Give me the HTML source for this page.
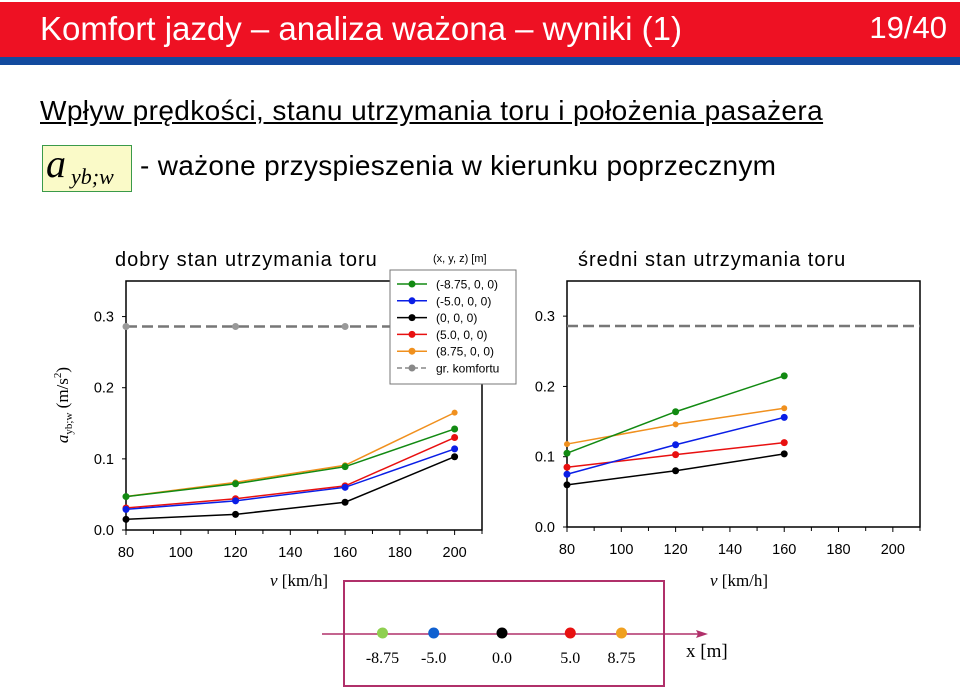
<!DOCTYPE html>
<html><head><meta charset="utf-8">
<style>
body{margin:0;width:960px;height:691px;background:#fff;position:relative;overflow:hidden;font-family:"Liberation Sans",sans-serif}
.abs{position:absolute;white-space:nowrap}
</style></head>
<body>
<div class="abs" style="left:0;top:2px;width:960px;height:55px;background:#ee1123"></div>
<div class="abs" style="left:0;top:57px;width:960px;height:8px;background:#124a9e"></div>
<div class="abs" style="left:40px;top:10px;font-size:33px;color:#fff">Komfort jazdy – analiza ważona – wyniki (1)</div>
<div class="abs" style="right:13px;top:10px;font-size:31px;color:#fff">19/40</div>
<div class="abs" style="left:40px;top:95px;font-size:28px;text-decoration:underline;letter-spacing:0.4px">Wpływ prędkości, stanu utrzymania toru i położenia pasażera</div>
<div class="abs" style="left:42px;top:145px;width:88px;height:45px;background:#fafac8;border:1px solid #3a9a4a;font-family:'Liberation Serif',serif;font-style:italic"><span style="position:absolute;left:3px;top:-6px;font-size:40px">a</span><span style="position:absolute;left:28px;top:18px;font-size:22px">yb;w</span></div>
<div class="abs" style="left:140px;top:150px;font-size:28px;letter-spacing:0.3px">- ważone przyspieszenia w kierunku poprzecznym</div>

<svg id="chart" class="abs" style="left:0;top:0" width="960" height="691"></svg>

<div class="abs" style="left:343px;top:580px;width:318px;height:103px;border:2px solid #b0306a"></div>

<script>
const xTicks=[80,100,120,140,160,180,200];
const yTicks=[0.0,0.1,0.2,0.3];
const yTickLabels=["0.0","0.1","0.2","0.3"];
const speedsL=[80,120,160,200];
const greenL=[0.047,0.065,0.089,0.142];
const blueL=[0.029,0.041,0.060,0.114];
const blackL=[0.015,0.022,0.039,0.103];
const redL=[0.031,0.044,0.062,0.130];
const orangeL=[0.047,0.067,0.091,0.165];
const comfortL=[0.286,0.286,0.286,0.286];
const speedsR=[80,120,160];
const greenR=[0.105,0.164,0.215];
const blueR=[0.075,0.117,0.156];
const blackR=[0.060,0.080,0.104];
const redR=[0.085,0.103,0.120];
const orangeR=[0.118,0.146,0.169];
const comfortR=0.286;
const legendLabels=["(-8.75, 0, 0)","(-5.0, 0, 0)","(0, 0, 0)","(5.0, 0, 0)","(8.75, 0, 0)","gr. komfortu"];
const positions=[-8.75,-5.0,0.0,5.0,8.75];
const positionLabels=["-8.75","-5.0","0.0","5.0","8.75"];

const svg=document.getElementById('chart');
const NS="http://www.w3.org/2000/svg";
function mk(tag,attrs,parent){const e=document.createElementNS(NS,tag);for(const k in attrs)e.setAttribute(k,attrs[k]);(parent||svg).appendChild(e);return e;}
const COL={green:"#128a12",blue:"#0a1ee6",black:"#000",red:"#e81010",orange:"#f0901e",grey:"#888"};

function drawPanel(p,name,series,xs,comfort,title){
  const sx=v=>p.x0+(v-80)/(210-80)*(p.x1-p.x0);
  const sy=v=>p.yb-(v/0.35)*(p.yb-p.yt);
  const g=mk('g',{});
  
  
  const fr=mk('rect',{x:p.x0,y:p.yt,width:p.x1-p.x0,height:p.yb-p.yt,fill:'none',stroke:'#000','stroke-width':1.5},g);
  
  
  for(let v=80;v<=210;v+=10){mk('line',{x1:sx(v),x2:sx(v),y1:p.yb,y2:p.yb+(v%20===0?5:4),stroke:'#000'},g);}
  xTicks.forEach(v=>{const t=mk('text',{x:sx(v),y:p.yb+27,'text-anchor':'middle','font-size':14.5,'font-family':'Liberation Sans'},g);t.textContent=v;
    });
  yTicks.forEach((v,i)=>{mk('line',{x1:p.x0-4,x2:p.x0,y1:sy(v),y2:sy(v),stroke:'#000'},g);
    const t=mk('text',{x:p.x0-12,y:sy(v)+5,'text-anchor':'end','font-size':14.5,'font-family':'Liberation Sans'},g);t.textContent=yTickLabels[i];
    });
  const cl=mk('line',{x1:p.x0,x2:p.x1+(name==='right-chart'?0:-30),y1:sy(comfort[0]),y2:sy(comfort[0]),stroke:'#777','stroke-width':2.5,'stroke-dasharray':'11,5'},g);
  
  if(name==='left-chart'){xs.forEach((v,i)=>{if(v<200)mk('circle',{cx:sx(v),cy:sy(comfort[i]),r:3.5,fill:'#999'},g);});}
  series.forEach(s=>{
    const pl=mk('polyline',{points:xs.map((v,i)=>sx(v)+','+sy(s.d[i])).join(' '),fill:'none',stroke:s.c,'stroke-width':1.5},g);
    
    xs.forEach((v,i)=>{const c=mk('circle',{cx:sx(v),cy:sy(s.d[i]),r:s.n==='orange'?3:3.5,fill:s.c},g);
      });
  });
  const tt=mk('text',{x:title.x,y:266,'font-size':20,'letter-spacing':1,'font-family':'Liberation Sans'},g);tt.textContent=title.t;
  
  const xl=mk('text',{x:title.vx,y:586,'font-size':17,'font-family':'Liberation Serif'},g);
  xl.innerHTML='<tspan font-style="italic">v</tspan> [km/h]';
  
}
drawPanel({x0:126,x1:482,yt:281,yb:530},'left-chart',
 [{n:'orange',c:COL.orange,d:orangeL},{n:'green',c:COL.green,d:greenL},{n:'red',c:COL.red,d:redL},{n:'blue',c:COL.blue,d:blueL},{n:'black',c:COL.black,d:blackL}],
 speedsL,comfortL,{x:115,t:'dobry stan utrzymania toru',vx:270});
drawPanel({x0:567,x1:920,yt:281,yb:527},'right-chart',
 [{n:'orange',c:COL.orange,d:orangeR},{n:'green',c:COL.green,d:greenR},{n:'red',c:COL.red,d:redR},{n:'blue',c:COL.blue,d:blueR},{n:'black',c:COL.black,d:blackR}],
 speedsR,[comfortR],{x:578,t:'średni stan utrzymania toru',vx:710});

const lg=mk('g',{});

mk('rect',{x:390,y:270,width:126,height:114,fill:'#fff',stroke:'#777','stroke-width':1},lg);
const lh=mk('text',{x:433,y:262,'font-size':11,'font-family':'Liberation Sans'},lg);lh.textContent='(x, y, z)  [m]';

const lc=[COL.green,COL.blue,COL.black,COL.red,COL.orange,'#888'];
legendLabels.forEach((l,i)=>{const y=284+i*16.8;
  const e=mk('g',{},lg);
  
  mk('line',{x1:397,x2:427,y1:y,y2:y,stroke:lc[i],'stroke-width':1.5,'stroke-dasharray':i===5?'5,3':'none'},e);
  mk('circle',{cx:412,cy:y,r:3.5,fill:lc[i]},e);
  const t=mk('text',{x:436,y:y+4.5,'font-size':12,'font-family':'Liberation Sans'},e);t.textContent=l;});

const yt=mk('text',{transform:'translate(68,405) rotate(-90)','text-anchor':'middle','font-size':17,'font-family':'Liberation Serif'});
yt.innerHTML='<tspan font-style="italic">a</tspan><tspan font-size="11" dy="4">yb;w</tspan><tspan dy="-4">  (m/s</tspan><tspan font-size="11" dy="-7">2</tspan><tspan dy="7">)</tspan>';


const px=v=>502+v*((619-380)/17.5);
const pa=mk('line',{x1:322,x2:700,y1:634,y2:634,stroke:'#b0306a','stroke-width':1.5});

mk('polygon',{points:'708,634 696,630 698,634 696,638',fill:'#b0306a'});
const pc=['#8fcf50','#1060d0','#000','#e81010','#f0a020'];
positions.forEach((v,i)=>{const c=mk('circle',{cx:px(v),cy:633,r:5.5,fill:pc[i]});
  
  const t=mk('text',{x:px(v),y:663,'text-anchor':'middle','font-size':16,'font-family':'Liberation Serif'});t.textContent=positionLabels[i];
  });
const xm=mk('text',{x:686,y:657,'font-size':19,'font-family':'Liberation Serif'});xm.textContent='x [m]';

</script>
</body></html>
